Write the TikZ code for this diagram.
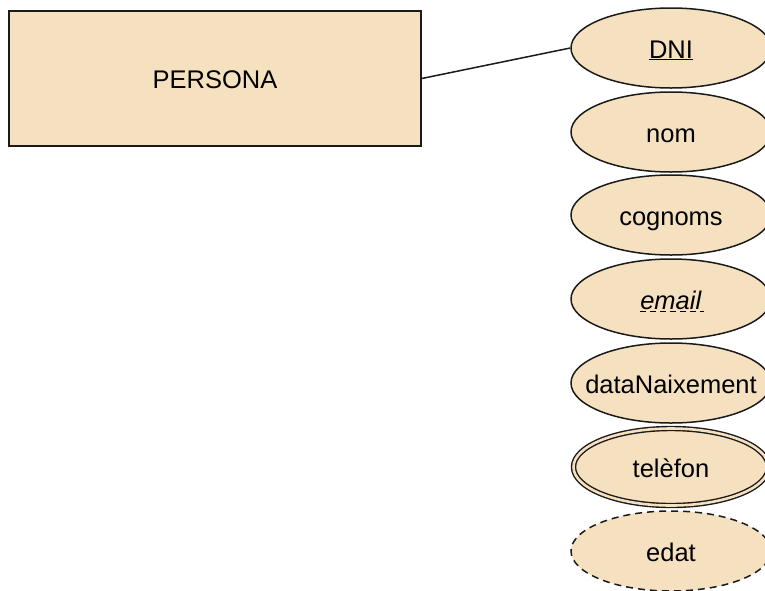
\documentclass[tikz,border=0pt]{standalone}
\usepackage{fontspec}
\setmainfont{Liberation Sans}
\usetikzlibrary{shapes.geometric,calc}
\definecolor{erfill}{HTML}{F5E0C0}
\definecolor{erline}{HTML}{1A1A1A}
% zero-width box so the ellipse keeps its fixed size whatever the label
\newcommand{\erlabel}[1]{\makebox[0pt][c]{#1}}
\tikzset{
  ertext/.style={font=\fontsize{25.5}{30}\selectfont, text height=20pt, text depth=0pt},
  entity/.style={ertext, draw=erline, fill=erfill, line width=1.5pt, minimum width=412pt, minimum height=135pt, inner sep=0pt},
  attr/.style={ertext, ellipse, draw=erline, fill=erfill, line width=1.5pt, minimum width=200pt, minimum height=80pt, inner sep=0pt},
  multiattr/.style={attr, double=erfill, double distance=2.6pt, line width=1.4pt, minimum width=195pt, minimum height=77pt},
  derivedattr/.style={attr, dashed, dash pattern=on 7pt off 5pt},
  partialkey/.style={draw=black, line width=1.7pt, dash pattern=on 5.5pt off 4.5pt},
  link/.style={draw=erline, line width=1.5pt}
}
\begin{document}
\begin{tikzpicture}[x=1pt, y=-1pt]
  \useasboundingbox (0,0) rectangle (765,590);
  \clip (0,0) rectangle (765,590);
  \node[entity] (persona) at (215,78.5) {\erlabel{PERSONA}};
  \node[attr] (dni) at (671,48) {\erlabel{\underline{DNI}}};
  \node[attr] (nom) at (671,132) {\erlabel{nom}};
  \node[attr] (cognoms) at (671,215) {\erlabel{cognoms}};
  \node[attr] (email) at (671,299) {\erlabel{\textit{email}}};
  \node[attr] (naix) at (671,383) {\erlabel{dataNaixement}};
  \node[multiattr] (telefon) at (671,467) {\erlabel{telèfon}};
  \node[derivedattr] (edat) at (671,551) {\erlabel{edat}};
  \draw[link] (persona.east) -- (dni.west);
  % dashed underline of the partial key
  \draw[partialkey] ($(email.center)+(-31,12.5)$) -- ($(email.center)+(33,12.5)$);
\end{tikzpicture}
\end{document}
